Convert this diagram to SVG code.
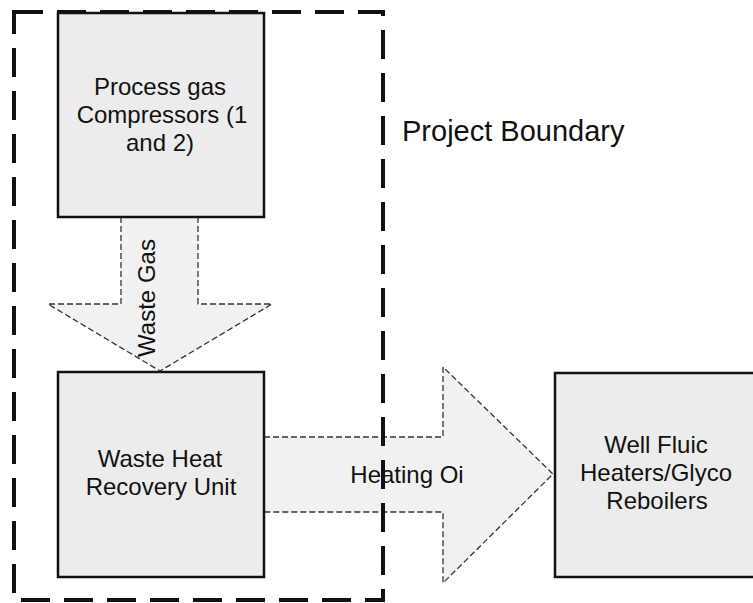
<svg xmlns="http://www.w3.org/2000/svg" width="753" height="603" viewBox="0 0 753 603">
  <style>
    .box { fill: #ececec; stroke: #111; stroke-width: 2.5; }
    .flow { fill: #f1f1f1; stroke: none; }
    .flow-edge { fill: none; stroke: #333; stroke-width: 1.3; stroke-dasharray: 6 3; }
    .label { font-family: "Liberation Sans", Arial, sans-serif; font-size: 24px; fill: #111; text-anchor: middle; }
    .boundary { fill: none; stroke: #111; stroke-width: 4; stroke-dasharray: 29 14; }
    .title { font-family: "Liberation Sans", Arial, sans-serif; font-size: 29px; fill: #111; }
  </style>

  <rect width="753" height="603" fill="#fff"/>

  <!-- flow arrows -->
  <g id="connectors">
    <g id="waste-gas">
      <polygon class="flow" points="121,217 198,217 198,304 272,304 160,371 48,304 121,304"/>
      <path class="flow-edge" d="M121,217 V304 H48 L160,371 L272,304 H198 V217"/>
      <text class="label" transform="translate(155,298) rotate(-90)">Waste Gas</text>
    </g>
    <g id="heating-oil">
      <polygon class="flow" points="264,437 443,437 443,367 553,474 443,583 443,512 264,512"/>
      <path class="flow-edge" d="M264,437 H443 V367 L553,474 L443,583 V512 H264"/>
      <text class="label" x="407" y="483">Heating Oi</text>
    </g>
  </g>

  <!-- equipment -->
  <g id="compressors">
    <rect class="box" x="58" y="13" width="206" height="204"/>
    <text class="label" x="160" y="95">Process gas</text>
    <text class="label" x="162" y="123">Compressors (1</text>
    <text class="label" x="160" y="151">and 2)</text>
  </g>

  <g id="whru">
    <rect class="box" x="58" y="372" width="206" height="205"/>
    <text class="label" x="160" y="467">Waste Heat</text>
    <text class="label" x="161" y="495">Recovery Unit</text>
  </g>

  <g id="heaters">
    <rect class="box" x="555" y="373" width="210" height="204"/>
    <text class="label" x="656" y="453">Well Fluic</text>
    <text class="label" x="656" y="481">Heaters/Glyco</text>
    <text class="label" x="657" y="509">Reboilers</text>
  </g>

  <!-- project boundary -->
  <g id="boundary">
    <rect class="boundary" x="14" y="12" width="369" height="588"/>
    <text class="title" x="402" y="141">Project Boundary</text>
  </g>
</svg>
